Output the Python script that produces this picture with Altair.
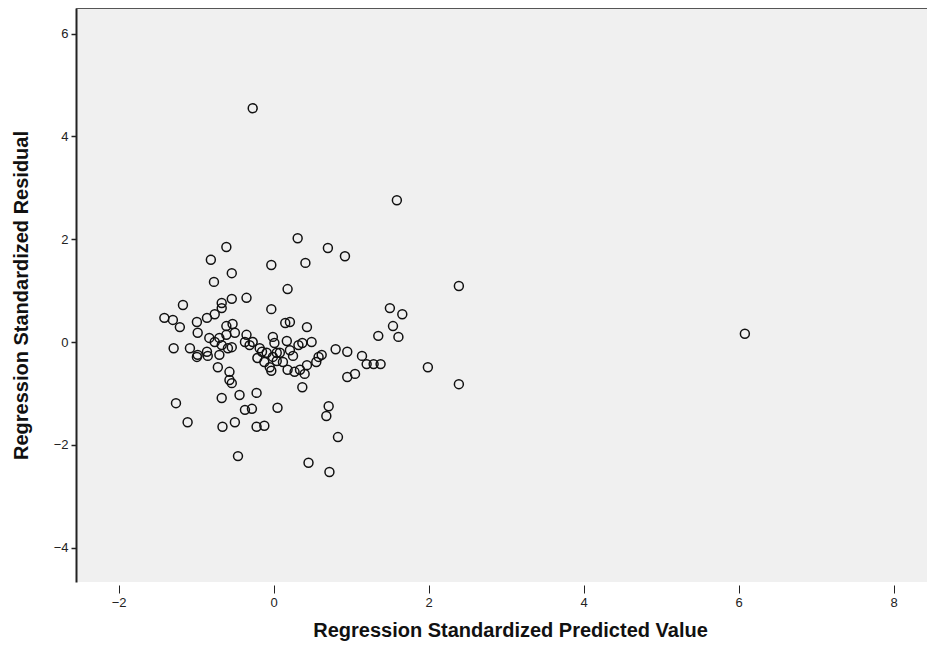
import altair as alt
import pandas as pd

# Regression Standardized Predicted Value
pred = [
    -0.27, 1.59, 2.39, 2.39, 1.99, 6.08,
    0.31, 0.70, 0.92, -0.61, -0.81, -0.54, -0.77, -0.03, 0.41, 0.18,
    -1.17, -1.41, -1.30, -0.67, -0.54, -0.35, -0.03, -1.21, -0.99, -0.86,
    -0.76, -0.61, -0.53, 0.21, 0.43, 1.50, 1.66, 1.54, 1.61, 1.35,
    0.49, 0.80, 0.95, 1.14, 1.20, 1.29, 1.38, 1.05, 0.95, 0.58,
    0.55, 0.43, 0.40, 0.37, 0.27, -0.03, -0.01, 0.17, 0.32, 0.25,
    -0.22, -0.28, 0.05, 0.71, 0.68, 0.83, -0.22, -0.12, 0.45, 0.72,
    -1.29, -1.08, -0.99, -0.86, -0.76, -0.67, -0.61, -0.50, -0.35, -0.27,
    -0.18, -0.09, -0.01, 0.08, 0.34, -0.72, -0.57, -0.54, -0.44, -0.67,
    -0.37, -1.26, -1.11, -0.66, -0.50, -0.46, -0.98, -0.83, -0.59, -0.98,
    -0.85, -0.70, -0.57, -0.37, -0.31, -0.15, -0.21, -0.12, -0.05, 0.04,
    0.12, 0.18, 0.21, 0.01, -0.67, 0.62, 0.37, 0.04, 0.15, -0.54, -0.70,
]
# Regression Standardized Residual
resid = [
    4.55, 2.76, 1.09, -0.82, -0.49, 0.16,
    2.02, 1.83, 1.67, 1.85, 1.60, 1.34, 1.17, 1.50, 1.54, 1.03,
    0.72, 0.47, 0.43, 0.76, 0.84, 0.86, 0.64, 0.29, 0.39, 0.47,
    0.54, 0.31, 0.35, 0.39, 0.29, 0.66, 0.54, 0.31, 0.10, 0.12,
    0.00, -0.14, -0.19, -0.27, -0.43, -0.43, -0.43, -0.62, -0.68, -0.29,
    -0.39, -0.45, -0.62, -0.88, -0.58, -0.56, 0.10, 0.02, -0.06, -0.27,
    -0.99, -1.30, -1.28, -1.25, -1.44, -1.85, -1.65, -1.63, -2.35, -2.53,
    -0.12, -0.12, -0.29, -0.19, 0.00, -0.06, 0.14, 0.18, 0.14, 0.00,
    -0.12, -0.21, -0.29, -0.21, -0.54, -0.49, -0.58, -0.80, -1.03, -1.09,
    -1.32, -1.19, -1.56, -1.65, -1.56, -2.22, 0.18, 0.08, -0.12, -0.25,
    -0.27, -0.25, -0.74, 0.00, -0.06, -0.19, -0.31, -0.39, -0.49, -0.37,
    -0.39, -0.54, -0.16, -0.02, 0.66, -0.25, -0.02, -0.21, 0.37, -0.10, 0.08,
]

x_ticks = [-2, 0, 2, 4, 6, 8]
y_ticks = [-4, -2, 0, 2, 4, 6]

df = pd.DataFrame({"pred": pred, "resid": resid})

FONT = "Liberation Sans"

points = alt.Chart(df).mark_point(
    shape="circle", filled=False, color="#111111", strokeWidth=1.5, size=80, opacity=1
).encode(
    x=alt.X(
        "pred:Q",
        scale=alt.Scale(domain=[-2.55, 8.43], nice=False, zero=False),
        axis=alt.Axis(
            values=x_ticks, title="Regression Standardized Predicted Value",
            domain=False, grid=False, tickColor="#222222", tickSize=8, offset=3,
            labelFont=FONT, labelFontSize=13, labelColor="#222222", labelPadding=3,
            titleFont=FONT, titleFontSize=20, titleFontWeight="bold", titleColor="#111111",
            titlePadding=11, titleX=434, titleAnchor="middle",
        ),
    ),
    y=alt.Y(
        "resid:Q",
        scale=alt.Scale(domain=[-4.67, 6.50], nice=False, zero=False),
        axis=alt.Axis(
            values=y_ticks, title="Regression Standardized Residual",
            domain=True, domainColor="#222222", domainWidth=2, grid=False,
            tickColor="#222222", tickSize=5, tickWidth=1.5,
            labelFont=FONT, labelFontSize=13, labelColor="#222222", labelPadding=3,
            titleFont=FONT, titleFontSize=20, titleFontWeight="bold", titleColor="#111111",
            titlePadding=22,
        ),
    ),
)

top_rule = alt.Chart(df).mark_rule(color="#555555", strokeWidth=2).encode(y=alt.value(0))

chart = alt.layer(points, top_rule).properties(
    width=851, height=574,
    padding={"left": 68, "top": 0, "right": 0, "bottom": 76},
    autosize=alt.AutoSizeParams(type="none"),
    view=alt.ViewBackground(fill="#f0f0f0", strokeWidth=0),
).configure_view(fill="#f0f0f0", strokeWidth=0).configure(background="white")

chart.save("out.html", embed_options={"renderer": "svg", "actions": False})
